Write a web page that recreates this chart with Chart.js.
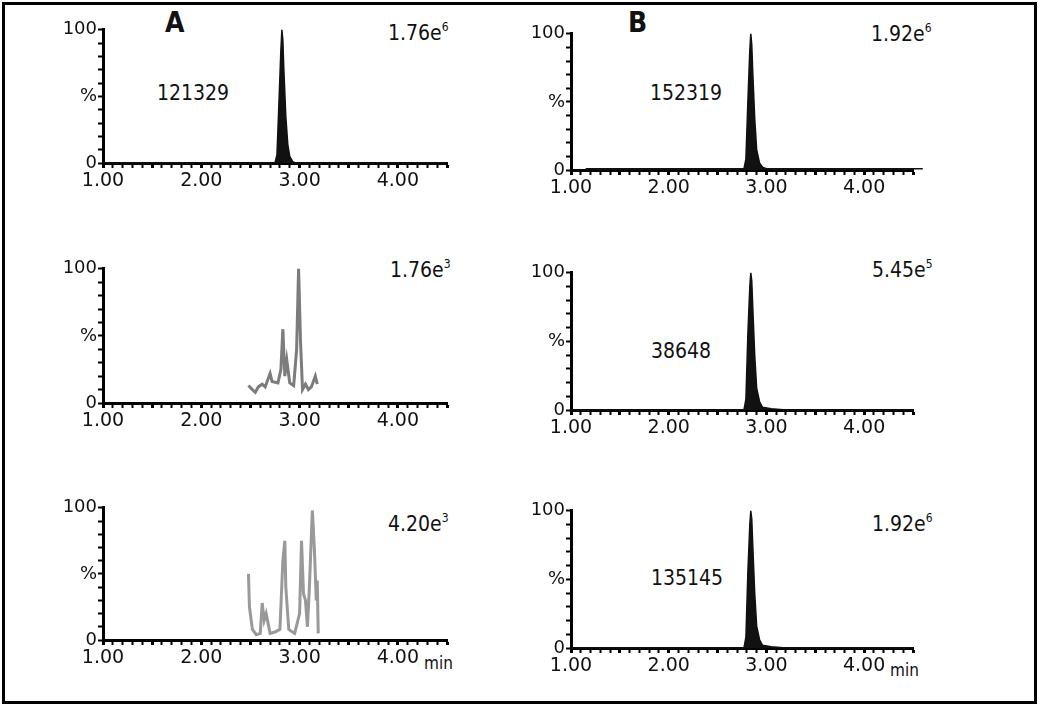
<!DOCTYPE html>
<html>
<head>
<meta charset="utf-8">
<script src="https://cdn.jsdelivr.net/npm/chart.js@4/dist/chart.umd.min.js"></script>
<style>
  body { margin: 0; background: #fff; font-family: "Noto Sans", sans-serif; }
  #frame { position: absolute; left: 2px; top: 2px; width: 1029px; height: 696px; border: 3px solid #000; }
  canvas { position: absolute; }
  .t { position: absolute; font-size: 21px; color: #111; white-space: nowrap; font-family: "DejaVu Sans Condensed", sans-serif; }
  .t sup { font-size: 12px; vertical-align: 9px; }
  .big { font-size: 28px; font-weight: bold; }
  .min { font-size: 17px; }
</style>
</head>
<body>
<div id="frame"></div>

<div class="t big" style="left:165px;top:6px">A</div>
<div class="t big" style="left:628px;top:6px">B</div>
<div class="t" style="left:157px;top:81px">121329</div>
<div class="t" style="left:388px;top:20px">1.76e<sup>6</sup></div>
<div class="t" style="left:390px;top:257px">1.76e<sup>3</sup></div>
<div class="t" style="left:388px;top:511px">4.20e<sup>3</sup></div>
<div class="t" style="left:650px;top:81px">152319</div>
<div class="t" style="left:871px;top:21px">1.92e<sup>6</sup></div>
<div class="t" style="left:872px;top:257px">5.45e<sup>5</sup></div>
<div class="t" style="left:651px;top:339px">38648</div>
<div class="t" style="left:872px;top:511px">1.92e<sup>6</sup></div>
<div class="t" style="left:651px;top:566px">135145</div>
<div class="t min" style="left:424px;top:653px">min</div>
<div class="t min" style="left:890px;top:660px">min</div>

<canvas id="a1"></canvas><canvas id="a2"></canvas><canvas id="a3"></canvas>
<canvas id="b1"></canvas><canvas id="b2"></canvas><canvas id="b3"></canvas>

<script>
// retention time (min) and relative intensity (%)
const a1X = [1.00, 2.75, 2.77, 2.79, 2.81, 2.82, 2.83, 2.84, 2.86, 2.88, 2.90, 2.93, 2.96, 4.50];
const a1Y = [0, 0, 6, 45, 85, 100, 92, 70, 35, 14, 5, 1, 0, 0];

const a2X = [2.48, 2.52, 2.55, 2.58, 2.62, 2.65, 2.70, 2.72, 2.78, 2.81, 2.83, 2.85, 2.87, 2.90, 2.94, 2.97, 2.99, 3.01, 3.03, 3.06, 3.09, 3.12, 3.16, 3.18];
const a2Y = [13, 10, 8, 12, 14, 12, 22, 16, 15, 25, 55, 20, 32, 15, 13, 40, 100, 45, 10, 14, 10, 12, 20, 14];

const a3X = [2.48, 2.49, 2.52, 2.56, 2.60, 2.62, 2.64, 2.66, 2.70, 2.75, 2.80, 2.83, 2.85, 2.86, 2.89, 2.95, 3.00, 3.02, 3.04, 3.06, 3.08, 3.10, 3.13, 3.15, 3.17, 3.18, 3.19];
const a3Y = [50, 25, 8, 4, 5, 28, 15, 20, 5, 6, 8, 60, 75, 40, 8, 5, 20, 75, 35, 30, 10, 40, 98, 70, 30, 45, 5];

const b1X = [1.15, 2.77, 2.79, 2.81, 2.83, 2.84, 2.85, 2.86, 2.88, 2.90, 2.93, 2.96, 3.00, 4.60];
const b1Y = [1, 1, 8, 50, 88, 100, 92, 72, 38, 15, 5, 2, 1, 1];

const b2X = [1.00, 2.77, 2.79, 2.81, 2.83, 2.84, 2.85, 2.86, 2.88, 2.90, 2.93, 2.96, 3.05, 3.20, 4.50];
const b2Y = [0, 0, 8, 55, 90, 100, 94, 75, 40, 16, 6, 2, 1, 0, 0];

const b3X = [1.00, 2.77, 2.79, 2.81, 2.83, 2.84, 2.85, 2.86, 2.88, 2.90, 2.93, 2.96, 3.05, 3.20, 4.50];
const b3Y = [0, 0, 8, 55, 90, 100, 94, 75, 40, 16, 6, 2, 1, 0, 0];

const xLabels = { 1: "1.00", 2: "2.00", 3: "3.00", 4: "4.00" };
const yLabels = { 0: "0", 50: "%", 100: "100" };

function panel(id, xs, ys, box, style) {
  const el = document.getElementById(id);
  const padTop = 10, yw = 46, xh = 34, padR = 24;
  el.style.left = (box.x - yw) + "px";
  el.style.top = (box.top - padTop) + "px";
  el.width = yw + box.w + padR;
  el.height = padTop + (box.bottom - box.top) + xh;
  new Chart(el, {
    type: "line",
    data: {
      datasets: [{
        data: xs.map((x, i) => ({ x: x, y: ys[i] })),
        borderColor: style.color,
        backgroundColor: style.fill ? style.color : "transparent",
        fill: style.fill ? "origin" : false,
        borderWidth: style.width,
        pointRadius: 0,
        tension: 0,
        clip: false
      }]
    },
    options: {
      responsive: false,
      animation: false,
      layout: { padding: { top: padTop, right: padR, left: 0, bottom: 0 } },
      plugins: { legend: { display: false }, tooltip: { enabled: false } },
      scales: {
        x: {
          type: "linear", min: 1, max: 4.5,
          afterFit: s => { s.height = xh; },
          border: { color: "#000", width: 3 },
          grid: { drawOnChartArea: false, tickLength: 5, tickColor: "#000",
                  tickWidth: c => (Math.abs(c.tick.value * 2 - Math.round(c.tick.value * 2)) < 1e-6 ? 3 : 2) },
          ticks: { stepSize: 0.1, autoSkip: false, maxRotation: 0, padding: 2, color: "#111",
                   font: { family: "DejaVu Sans", size: 19 },
                   callback: v => xLabels[Math.round(v * 1000) / 1000] || "" }
        },
        y: {
          min: 0, max: 100,
          afterFit: s => { s.width = yw; },
          border: { color: "#000", width: 3 },
          grid: { drawOnChartArea: false, tickLength: 5, tickColor: "#000", tickWidth: 2 },
          ticks: { stepSize: 10, autoSkip: false, padding: 1, color: "#111",
                   font: { family: "DejaVu Sans", size: 18 },
                   callback: v => yLabels[v] || "" }
        }
      }
    }
  });
}

const black = { color: "#111", fill: true, width: 1.5 };
panel("a1", a1X, a1Y, { x: 103, w: 344, top: 28, bottom: 163 }, black);
panel("a2", a2X, a2Y, { x: 103, w: 344, top: 267, bottom: 403 }, { color: "rgba(80,80,80,0.75)", fill: false, width: 3 });
panel("a3", a3X, a3Y, { x: 103, w: 344, top: 506, bottom: 640 }, { color: "rgba(110,110,110,0.7)", fill: false, width: 3 });
panel("b1", b1X, b1Y, { x: 571, w: 342, top: 32, bottom: 170 }, black);
panel("b2", b2X, b2Y, { x: 571, w: 342, top: 271, bottom: 410 }, black);
panel("b3", b3X, b3Y, { x: 571, w: 342, top: 509, bottom: 648 }, black);
</script>
</body>
</html>
